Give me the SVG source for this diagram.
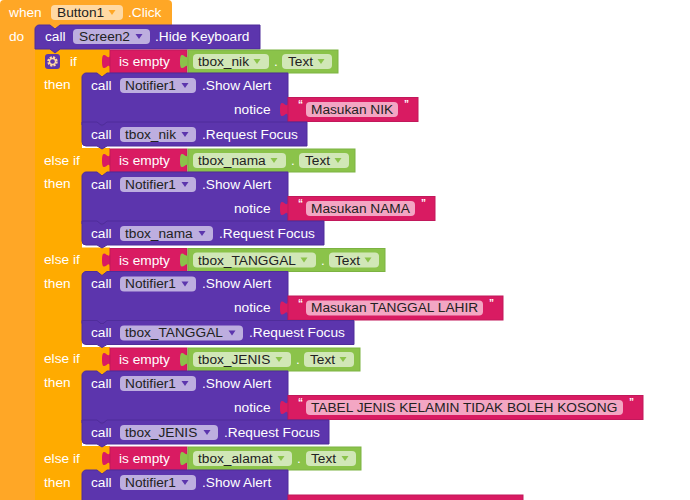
<svg xmlns="http://www.w3.org/2000/svg" xmlns:xlink="http://www.w3.org/1999/xlink" width="690" height="500" viewBox="0 0 690 500">
<style>
text{font-family:"Liberation Sans",Arial,sans-serif;font-size:13.7px}
.w{fill:#fff}.d{fill:#222}.q{font-size:10px;fill:#fff;font-weight:bold}
.p{fill:#5c35ad;stroke:#4f2d9a;stroke-width:1}
.k{fill:#d91b62;stroke:#c2185b;stroke-width:1}
.g{fill:#8bc34a;stroke:#7cb342;stroke-width:1}
.fp{fill:#bdaedf}.fk{fill:#f3a6c3}.fg{fill:#d1e7b7}.fo{fill:#ffd9a3}
.ap{fill:#5c35ad}.ag{fill:#8bc34a}.ao{fill:#ffa726}
.y{fill:#ffab00}
</style>
<defs>
<path id="tabk" fill="#d91b62" d="M8 5c0 10-8-8-8 7.500s8-2.500 8 7.500z"/>
<path id="tabg" fill="#8bc34a" d="M8 5c0 10-8-8-8 7.500s8-2.500 8 7.500z"/>
<path id="arr" d="M-3.500 0H3.500L0 5Z"/>
<g id="empty">
<use xlink:href="#tabk" href="#tabk" x="102" y="0"/>
<rect class="k" x="110" y="1" width="77" height="23"/>
<text class="w" x="119" y="17">is empty</text>
<use xlink:href="#tabg" href="#tabg" x="180" y="0"/>
</g>
<g id="callN">
<path class="p" d="M82 28C82 26 84 24 86 24H97L102 28L107 24H288V76H82Z"/>
<text class="w" x="91" y="40.500">call</text>
<rect class="fp" x="120" y="29" width="76" height="15" rx="4"/>
<text class="d" x="125" y="40.500">Notifier1</text>
<use xlink:href="#arr" href="#arr" x="185" y="34" class="ap"/>
<text class="w" x="202" y="40.500">.Show Alert</text>
<text class="w" x="234" y="64.500">notice</text>
</g>
</defs>
<rect width="690" height="500" fill="#fff"/>
<g id="when">
<path d="M0 500V4Q0 0 4 0H168Q172 0 172 4V29H35V500Z" fill="#ffa726"/>
<text class="w" x="9" y="17">when</text>
<rect class="fo" x="51" y="5" width="72" height="15" rx="4"/>
<text class="d" x="57" y="17">Button1</text>
<use xlink:href="#arr" href="#arr" x="112" y="10" class="ao"/>
<text class="w" x="128" y="17">.Click</text>
<text class="w" x="9" y="41">do</text>
</g>
<g id="ifblock">
<path class="y" d="M35 49H110V77H82V500H35Z"/>
<rect class="y" x="82" y="148" width="28" height="29"/>
<rect class="y" x="82" y="247.500" width="28" height="29"/>
<rect class="y" x="82" y="347" width="28" height="29"/>
<rect class="y" x="82" y="446" width="28" height="29"/>
<rect x="45" y="54" width="15" height="15" rx="3" fill="#5c35ad"/>
<circle cx="52.500" cy="61.500" r="4" fill="none" stroke="#ffd9a3" stroke-width="2.500" stroke-dasharray="2 1.140"/>
<circle cx="52.500" cy="61.500" r="3" fill="none" stroke="#ffd9a3" stroke-width="1.300"/>
<text class="w" x="70" y="66">if</text>
<text class="w" x="44" y="89">then</text>
<text class="w" x="44" y="165">else if</text>
<text class="w" x="44" y="188">then</text>
<text class="w" x="44" y="264">else if</text>
<text class="w" x="44" y="288">then</text>
<text class="w" x="44" y="363">else if</text>
<text class="w" x="44" y="387">then</text>
<text class="w" x="44" y="463">else if</text>
<text class="w" x="44" y="487">then</text>
</g>
<g id="hide">
<path class="p" d="M35 29C35 27 37 25 39 25H50L55 29L60 25H260V49H60L55 53L50 49H35Z"/>
<text class="w" x="45" y="41">call</text>
<rect class="fp" x="73" y="29" width="77" height="15" rx="4"/>
<text class="d" x="79" y="41">Screen2</text>
<use xlink:href="#arr" href="#arr" x="139" y="34" class="ap"/>
<text class="w" x="155" y="41">.Hide Keyboard</text>
</g>
<g id="branch1" transform="translate(0 49)">
<use xlink:href="#empty" href="#empty"/>
<rect class="g" x="188" y="1" width="150" height="23"/>
<rect class="fg" x="193" y="5" width="76" height="15" rx="4"/>
<text class="d" x="198" y="17">tbox_nik</text>
<use xlink:href="#arr" href="#arr" x="257" y="10" class="ag"/>
<text class="w" x="274" y="17">.</text>
<rect class="fg" x="282" y="5" width="50" height="15" rx="4"/>
<text class="d" x="288" y="17">Text</text>
<use xlink:href="#arr" href="#arr" x="321" y="10" class="ag"/>
<use xlink:href="#callN" href="#callN"/>
<use xlink:href="#tabk" href="#tabk" x="280" y="48"/>
<rect class="k" x="288" y="48.500" width="130" height="24"/>
<text class="q" x="298" y="59">“</text>
<rect class="fk" x="306" y="53" width="92" height="15" rx="4"/>
<text class="d" x="311" y="64.500">Masukan NIK</text>
<text class="q" x="404" y="59">”</text>
<path class="p" d="M82 73H97L102 77L107 73H307V97H107L102 100L97 97H86Q82 97 82 93Z"/>
<text class="w" x="91" y="89.500">call</text>
<rect class="fp" x="120" y="78" width="76" height="15" rx="4"/>
<text class="d" x="125" y="89.500">tbox_nik</text>
<use xlink:href="#arr" href="#arr" x="185" y="83" class="ap"/>
<text class="w" x="202" y="89.500">.Request Focus</text>
</g>
<g id="branch2" transform="translate(0 148)">
<use xlink:href="#empty" href="#empty"/>
<rect class="g" x="188" y="1" width="167" height="23"/>
<rect class="fg" x="193" y="5" width="93" height="15" rx="4"/>
<text class="d" x="198" y="17">tbox_nama</text>
<use xlink:href="#arr" href="#arr" x="274" y="10" class="ag"/>
<text class="w" x="291" y="17">.</text>
<rect class="fg" x="299" y="5" width="50" height="15" rx="4"/>
<text class="d" x="305" y="17">Text</text>
<use xlink:href="#arr" href="#arr" x="338" y="10" class="ag"/>
<use xlink:href="#callN" href="#callN"/>
<use xlink:href="#tabk" href="#tabk" x="280" y="48"/>
<rect class="k" x="288" y="48.500" width="147" height="24"/>
<text class="q" x="298" y="59">“</text>
<rect class="fk" x="306" y="53" width="109" height="15" rx="4"/>
<text class="d" x="311" y="64.500">Masukan NAMA</text>
<text class="q" x="421" y="59">”</text>
<path class="p" d="M82 73H97L102 77L107 73H324V97H107L102 100L97 97H86Q82 97 82 93Z"/>
<text class="w" x="91" y="89.500">call</text>
<rect class="fp" x="120" y="78" width="93" height="15" rx="4"/>
<text class="d" x="125" y="89.500">tbox_nama</text>
<use xlink:href="#arr" href="#arr" x="202" y="83" class="ap"/>
<text class="w" x="219" y="89.500">.Request Focus</text>
</g>
<g id="branch3" transform="translate(0 247.500)">
<use xlink:href="#empty" href="#empty"/>
<rect class="g" x="188" y="1" width="197" height="23"/>
<rect class="fg" x="193" y="5" width="123" height="15" rx="4"/>
<text class="d" x="198" y="17">tbox_TANGGAL</text>
<use xlink:href="#arr" href="#arr" x="304" y="10" class="ag"/>
<text class="w" x="321" y="17">.</text>
<rect class="fg" x="329" y="5" width="50" height="15" rx="4"/>
<text class="d" x="335" y="17">Text</text>
<use xlink:href="#arr" href="#arr" x="368" y="10" class="ag"/>
<use xlink:href="#callN" href="#callN"/>
<use xlink:href="#tabk" href="#tabk" x="280" y="48"/>
<rect class="k" x="288" y="48.500" width="215" height="24"/>
<text class="q" x="298" y="59">“</text>
<rect class="fk" x="306" y="53" width="177" height="15" rx="4"/>
<text class="d" x="311" y="64.500">Masukan TANGGAL LAHIR</text>
<text class="q" x="489" y="59">”</text>
<path class="p" d="M82 73H97L102 77L107 73H354V97H107L102 100L97 97H86Q82 97 82 93Z"/>
<text class="w" x="91" y="89.500">call</text>
<rect class="fp" x="120" y="78" width="123" height="15" rx="4"/>
<text class="d" x="125" y="89.500">tbox_TANGGAL</text>
<use xlink:href="#arr" href="#arr" x="232" y="83" class="ap"/>
<text class="w" x="249" y="89.500">.Request Focus</text>
</g>
<g id="branch4" transform="translate(0 347)">
<use xlink:href="#empty" href="#empty"/>
<rect class="g" x="188" y="1" width="172" height="23"/>
<rect class="fg" x="193" y="5" width="98" height="15" rx="4"/>
<text class="d" x="198" y="17">tbox_JENIS</text>
<use xlink:href="#arr" href="#arr" x="279" y="10" class="ag"/>
<text class="w" x="296" y="17">.</text>
<rect class="fg" x="304" y="5" width="50" height="15" rx="4"/>
<text class="d" x="310" y="17">Text</text>
<use xlink:href="#arr" href="#arr" x="343" y="10" class="ag"/>
<use xlink:href="#callN" href="#callN"/>
<use xlink:href="#tabk" href="#tabk" x="280" y="48"/>
<rect class="k" x="288" y="48.500" width="355" height="24"/>
<text class="q" x="298" y="59">“</text>
<rect class="fk" x="306" y="53" width="317" height="15" rx="4"/>
<text class="d" x="311" y="64.500">TABEL JENIS KELAMIN TIDAK BOLEH KOSONG</text>
<text class="q" x="629" y="59">”</text>
<path class="p" d="M82 73H97L102 77L107 73H329V97H107L102 100L97 97H86Q82 97 82 93Z"/>
<text class="w" x="91" y="89.500">call</text>
<rect class="fp" x="120" y="78" width="98" height="15" rx="4"/>
<text class="d" x="125" y="89.500">tbox_JENIS</text>
<use xlink:href="#arr" href="#arr" x="207" y="83" class="ap"/>
<text class="w" x="224" y="89.500">.Request Focus</text>
</g>
<g id="branch5" transform="translate(0 446)">
<use xlink:href="#empty" href="#empty"/>
<rect class="g" x="188" y="1" width="173" height="23"/>
<rect class="fg" x="193" y="5" width="99" height="15" rx="4"/>
<text class="d" x="198" y="17">tbox_alamat</text>
<use xlink:href="#arr" href="#arr" x="281" y="10" class="ag"/>
<text class="w" x="297" y="17">.</text>
<rect class="fg" x="306" y="5" width="50" height="15" rx="4"/>
<text class="d" x="311" y="17">Text</text>
<use xlink:href="#arr" href="#arr" x="345" y="10" class="ag"/>
<use xlink:href="#callN" href="#callN"/>
<use xlink:href="#tabk" href="#tabk" x="280" y="48"/>
<rect class="k" x="288" y="49" width="235" height="12"/>
</g>
<g id="connectors"></g>
</svg>
